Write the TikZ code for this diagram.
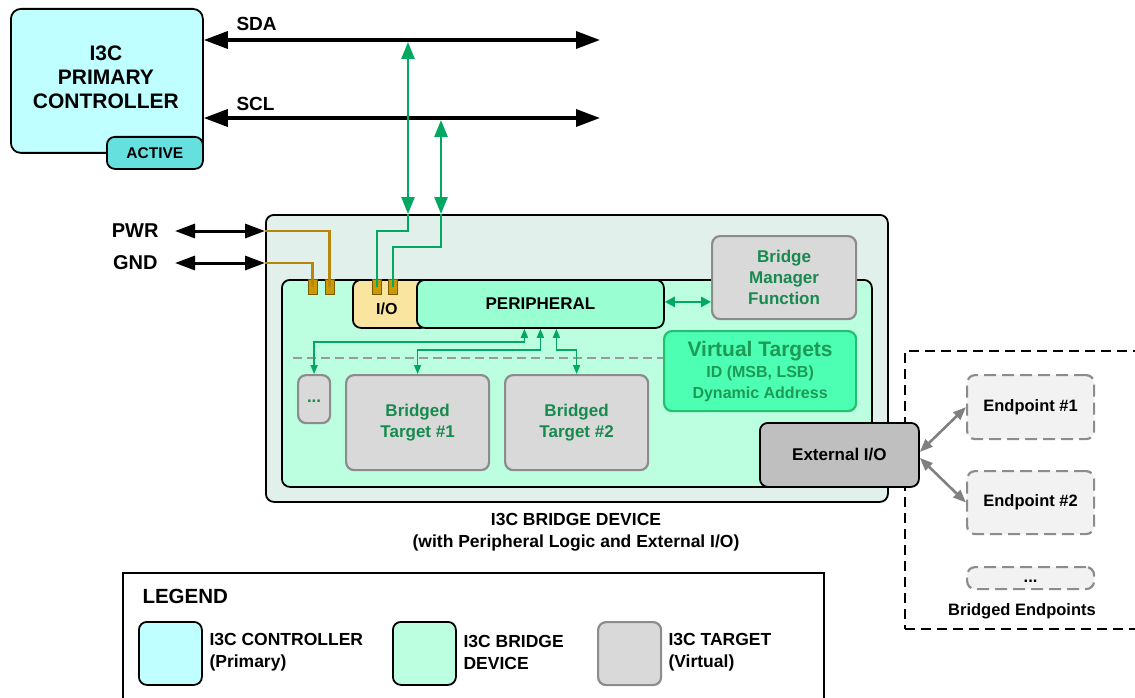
\documentclass[tikz,border=0pt]{standalone}
\usepackage{fontspec}
\setmainfont{Liberation Sans}
\usetikzlibrary{arrows.meta}
\definecolor{ctrlfill}{HTML}{BFFFFF}
\definecolor{activefill}{HTML}{66E0DE}
\definecolor{bridgeout}{HTML}{E2F0EB}
\definecolor{bridgein}{HTML}{BBFFE0}
\definecolor{periphfill}{HTML}{99FFD3}
\definecolor{iofill}{HTML}{FAE5A0}
\definecolor{golden}{HTML}{B8860B}
\definecolor{padfill}{HTML}{CC9900}
\definecolor{padedge}{HTML}{7A5A00}
\definecolor{gline}{HTML}{00A862}
\definecolor{gtext}{HTML}{178A4E}
\definecolor{grayfill}{HTML}{D9D9D9}
\definecolor{grayedge}{HTML}{8C8C8C}
\definecolor{vtfill}{HTML}{4DFFB2}
\definecolor{vtedge}{HTML}{22C070}
\definecolor{vttext}{HTML}{1C9A56}
\definecolor{extfill}{HTML}{BFBFBF}
\definecolor{epfill}{HTML}{F2F2F2}
\definecolor{arrgray}{HTML}{808080}
\definecolor{dashgray}{HTML}{9A9A9A}
\newcommand\fsz[2]{\fontsize{#1}{#2}\selectfont\bfseries}
\begin{document}
\begin{tikzpicture}[x=1pt,y=-1pt,
  lbl/.style={font=\fsz{20}{23}},
  box/.style={draw=black, line width=1.8pt, rounded corners=8pt, inner sep=0pt, anchor=north west, align=center},
  grbox/.style={box, draw=grayedge, line width=2.2pt, fill=grayfill, text=gtext, font=\fsz{17}{21}},
  epbox/.style={box, draw=grayedge, dash pattern=on 12pt off 6pt, line width=2.2pt, fill=epfill, font=\fsz{16.5}{20}},
  pad/.style={rectangle, draw=padedge, line width=0.8pt, fill=padfill, minimum width=9pt, minimum height=15pt, inner sep=0pt},
  bus/.style={line width=3.5pt, >={Triangle[length=24pt,width=17pt]}, <->},
  pwrarrow/.style={line width=3pt, >={Triangle[length=20pt,width=14pt]}, <->},
  garrow/.style={draw=gline, line width=2.6pt, >={Triangle[length=17pt,width=13pt]}, <->},
  gwire/.style={draw=gline, line width=2.6pt},
  goldwire/.style={draw=golden, line width=2.6pt},
  sgarrow/.style={draw=gline, line width=1.6pt, >={Triangle[length=9pt,width=7pt]}, <->},
  marrow/.style={draw=gline, line width=2.6pt, >={Triangle[length=10pt,width=10pt]}, <->},
  grarrow/.style={draw=arrgray, line width=2.6pt, >={Triangle[length=13pt,width=10pt]}, <->},
  legtext/.style={anchor=west, align=left, font=\fsz{17.5}{22}}
]
\useasboundingbox (0,0) rectangle (1135,698);

% controller
\node[box, fill=ctrlfill, rounded corners=10pt, minimum width=192pt, minimum height=144pt] (ctrl) at (10,8) {};
\node[font=\fsz{21}{24}, align=center] (ctrltxt) at ([xshift=-1pt,yshift=4pt]ctrl.center) {I3C\\PRIMARY\\CONTROLLER};
\node[box, fill=activefill, minimum width=96pt, minimum height=32pt, font=\fsz{15.5}{18}] (active) at (106,136) {ACTIVE};

% buses
\coordinate (sdaR) at (600,40);
\coordinate (sclR) at (600,118);
\draw[bus] (ctrl.east |- sdaR) -- (sdaR);
\draw[bus] (ctrl.east |- sclR) -- (sclR);
\node[lbl, font=\fsz{19}{23}, anchor=base west] (sdalbl) at (233,31) {SDA};
\node[lbl, font=\fsz{19}{23}, anchor=base west] (scllbl) at (233,111) {SCL};

% bridge device
\node[box, fill=bridgeout, minimum width=622pt, minimum height=287pt] (bridge) at (265,214) {};
\node[box, fill=bridgein, minimum width=590pt, minimum height=207pt] (inner) at (281,279) {};

% endpoints region (behind external I/O)
\node[box, rounded corners=0pt, draw=black, line width=1.6pt, dash pattern=on 10pt off 6pt, minimum width=260pt, minimum height=278pt] (epregion) at (904,350) {};

\node[box, fill=iofill, minimum width=76pt, minimum height=48pt] (io) at (352,279) {};
\node[font=\fsz{16}{20}] (iotxt) at ([xshift=-4pt,yshift=-4.5pt]io.center) {I/O};
\node[box, fill=periphfill, minimum width=247pt, minimum height=48pt, font=\fsz{17}{21}] (periph) at (416,279) {PERIPHERAL};
\node[grbox, minimum width=144pt, minimum height=83pt] (bmf) at (711,235) {Bridge\\Manager\\Function};
\node[box, draw=vtedge, line width=2.2pt, fill=vtfill, text=vttext, font=\fsz{16}{21}, minimum width=192pt, minimum height=80pt] (vt) at (663,330)
  {{\fontsize{21}{22}\selectfont Virtual Targets}\\ID (MSB, LSB)\\Dynamic Address};

\coordinate (dashL) at (293,358);
\draw[dashgray, line width=1.5pt, dash pattern=on 9pt off 5pt] (dashL) -- (dashL -| vt.west);

\node[grbox, minimum width=32pt, minimum height=48pt, text height=6pt, text depth=0pt] (dots) at (297,374) {...};
\node[grbox, minimum width=143pt, minimum height=95pt] (bt1) at (345,374) {Bridged\\Target \#1};
\node[grbox, minimum width=143pt, minimum height=95pt] (bt2) at (504,374) {Bridged\\Target \#2};

\node[box, fill=extfill, minimum width=159pt, minimum height=64pt, font=\fsz{17}{21}] (extio) at (759,422) {External I/O};

% pads
\node[pad] (pad1) at (312.5,286.5) {};
\node[pad] (pad2) at (329.5,286.5) {};
\node[pad] (pad3) at (377,286.5) {};
\node[pad] (pad4) at (393,286.5) {};

% power
\node[lbl, anchor=east] (pwrlbl) at (162,231) {PWR};
\node[lbl, anchor=east] (gndlbl) at (161,263) {GND};
\coordinate (pwrL) at (175,231);
\coordinate (gndL) at (175,263);
\draw[pwrarrow] (pwrL) -- (pwrL -| bridge.west);
\draw[pwrarrow] (gndL) -- (gndL -| bridge.west);
\draw[goldwire] (pwrL -| bridge.west) -| (pad2.center);
\draw[goldwire] (gndL -| bridge.west) -| (pad1.center);

% SDA / SCL taps
\coordinate (sdaTap) at (408,42);
\coordinate (sclTap) at (441,120);
\draw[garrow] (sdaTap) -- (sdaTap |- bridge.north);
\draw[garrow] (sclTap) -- (sclTap |- bridge.north);
\draw[gwire] (sdaTap |- bridge.north) -- ++(0,17) -| (pad3.center);
\draw[gwire] (sclTap |- bridge.north) -- ++(0,33) -| (pad4.center);

% internal arrows
\draw[sgarrow] (dots.north) -- ++(0,-32) -| ([xshift=-16pt]periph.south);
\draw[sgarrow] (bt1.north) -- ++(0,-24) -| (periph.south);
\draw[sgarrow] (bt2.north) -- ++(0,-24) -| ([xshift=16pt]periph.south);
\draw[marrow] ([yshift=2pt]periph.east) -- ([yshift=2pt]periph.east -| bmf.west);

% endpoints
\node[epbox, minimum width=127pt, minimum height=64pt] (ep1) at (966,374) {Endpoint \#1};
\node[epbox, minimum width=127pt, minimum height=63pt] (ep2) at (966,470) {Endpoint \#2};
\node[epbox, minimum width=127pt, minimum height=22pt, text height=9pt, text depth=0pt] (ep3) at (966,566) {...};
\node[font=\fsz{16.5}{20}] (eplbl) at (1022,611) {Bridged Endpoints};
\draw[grarrow] ([yshift=3pt]extio.east) -- (ep1.west);
\draw[grarrow] ([yshift=-3pt]extio.east) -- (ep2.west);

% caption
\node[font=\fsz{17.5}{22}, align=center] (caption) at (576,532) {I3C BRIDGE DEVICE\\(with Peripheral Logic and External I/O)};

% legend
\node[box, rounded corners=0pt, minimum width=701pt, minimum height=140pt] (legend) at (122,572) {};
\node[font=\fsz{20.5}{24}, anchor=west] (legtitle) at (139,596) {LEGEND};
\node[box, fill=ctrlfill, minimum width=63pt, minimum height=63pt] (sw1) at (138,621) {};
\node[box, fill=bridgein, minimum width=63pt, minimum height=63pt] (sw2) at (392,621) {};
\node[box, draw=grayedge, line width=2.2pt, fill=grayfill, minimum width=63pt, minimum height=63pt] (sw3) at (597,621) {};
\node[legtext] (lt1) at (206,652) {I3C CONTROLLER\\(Primary)};
\node[legtext] (lt2) at (460,652) {I3C BRIDGE\\DEVICE};
\node[legtext] (lt3) at (665,652) {I3C TARGET\\(Virtual)};
\end{tikzpicture}
\end{document}
